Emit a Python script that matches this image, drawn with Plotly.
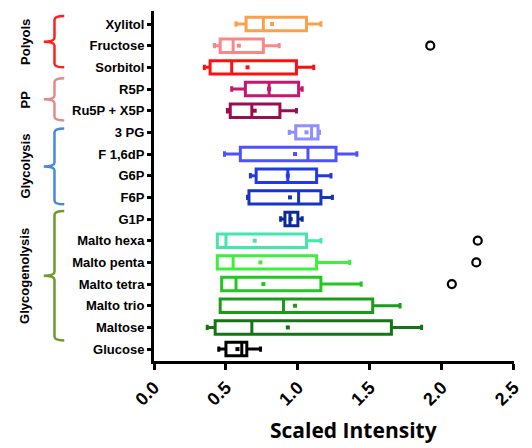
import plotly.graph_objects as go

# ---- data (top to bottom as drawn) ----
categories = ["Xylitol", "Fructose", "Sorbitol", "R5P", "Ru5P + X5P", "3 PG", "F 1,6dP",
              "G6P", "F6P", "G1P", "Malto hexa", "Malto penta", "Malto tetra",
              "Malto trio", "Maltose", "Glucose"]
lower_whisker = [0.57, 0.42, 0.35, 0.54, 0.51, 0.94, 0.49, 0.67, 0.65, 0.88, 0.44, 0.44, 0.47, 0.46, 0.37, 0.45]
q1_values     = [0.64, 0.46, 0.39, 0.635, 0.53, 0.985, 0.60, 0.71, 0.66, 0.91, 0.44, 0.44, 0.47, 0.46, 0.425, 0.50]
median_values = [0.76, 0.55, 0.54, 0.80, 0.68, 1.095, 1.07, 0.93, 1.005, 0.945, 0.50, 0.55, 0.57, 0.90, 0.68, 0.61]
q3_values     = [1.06, 0.76, 0.99, 1.005, 0.875, 1.14, 1.265, 1.13, 1.16, 1.00, 1.06, 1.13, 1.16, 1.52, 1.65, 0.645]
upper_whisker = [1.16, 0.87, 1.11, 1.03, 0.99, 1.15, 1.41, 1.23, 1.24, 1.03, 1.16, 1.36, 1.44, 1.71, 1.86, 0.74]
mean_values   = [0.82, 0.59, 0.65, 0.80, 0.70, 1.06, 0.98, 0.93, 0.945, 0.95, 0.70, 0.74, 0.76, 0.98, 0.93, 0.58]
colors = ["#f9a04c", "#f98787", "#ff1010", "#c8166e", "#9c0c50", "#8f8fff", "#5050ff",
          "#1f3ae6", "#1834c4", "#0c2a96", "#45e6ad", "#3cf03c", "#22c822", "#1a9c1a",
          "#157515", "#000000"]

outlier_cats = ["Fructose", "Malto hexa", "Malto penta", "Malto tetra"]
outlier_values = [1.92, 2.25, 2.24, 2.07]

x_tick_values = [0.0, 0.5, 1.0, 1.5, 2.0, 2.5]
x_tick_labels = ["0.0", "0.5", "1.0", "1.5", "2.0", "2.5"]

groups = ["Polyols", "PP", "Glycolysis", "Glycogenolysis"]
group_first = ["Xylitol", "R5P", "3 PG", "G1P"]
group_last = ["Sorbitol", "Ru5P + X5P", "F6P", "Maltose"]
group_colors = ["#ff2020", "#e08c8c", "#4a88dc", "#6c9a2c"]

order = list(reversed(categories))  # bottom-to-top for the axis
idx = {c: order.index(c) for c in categories}

fig = go.Figure()
for i, cat in enumerate(categories):
    fig.add_trace(go.Box(
        y=[cat], q1=[q1_values[i]], median=[median_values[i]], q3=[q3_values[i]],
        lowerfence=[lower_whisker[i]], upperfence=[upper_whisker[i]],
        orientation="h", boxpoints=False, fillcolor="white",
        line=dict(color=colors[i], width=3), whiskerwidth=0.4, width=0.62,
        showlegend=False, hoverinfo="skip"))
    fig.add_trace(go.Scatter(
        x=[mean_values[i]], y=[cat], mode="markers",
        marker=dict(color=colors[i], size=4, symbol="square"),
        showlegend=False, hoverinfo="skip"))

fig.add_trace(go.Scatter(
    x=outlier_values, y=outlier_cats, mode="markers",
    marker=dict(symbol="circle-open", size=8, color="black", line=dict(width=2.2, color="black")),
    showlegend=False, hoverinfo="skip"))

# plot-area geometry (pixels) for the side brackets
L, R = 154, 523
def px_to_paper(px):
    return (px - L) / (R - L)

xv = px_to_paper(52)
xe = px_to_paper(62)
xt = px_to_paper(41)
xlab = px_to_paper(22)
shapes = []
annotations = []
pads_top = [0.37, 0.5, 0.18, 0.37]
pads_bot = [0.0, 0.45, 0.32, 0.6]
for g, name in enumerate(groups):
    top = idx[group_first[g]] + pads_top[g]
    bot = idx[group_last[g]] - pads_bot[g]
    mid = (top + bot) / 2
    d = 0.18
    path = (f"M {xe},{top} Q {xv},{top} {xv},{top - d} "
            f"L {xv},{mid + d} Q {xv},{mid} {xt},{mid} "
            f"M {xt},{mid} Q {xv},{mid} {xv},{mid - d} "
            f"L {xv},{bot + d} Q {xv},{bot} {xe},{bot}")
    shapes.append(dict(type="path", path=path, xref="paper", yref="y",
                       line=dict(color=group_colors[g], width=2.5)))
    annotations.append(dict(text=name, x=xlab, y=mid, xref="paper", yref="y",
                            xanchor="center", yanchor="middle",
                            textangle=-90, showarrow=False,
                            font=dict(family="Liberation Sans", size=13, color="black", weight="bold")))

annotations.append(dict(text="Scaled Intensity", x=px_to_paper(358), y=(361 - 446) / 350,
                        xref="paper", yref="paper", showarrow=False,
                        xanchor="center", yanchor="bottom",
                        font=dict(family="Open Sans", size=21, color="black", weight="bold")))

fig.update_layout(
    width=532, height=448,
    margin=dict(l=154, r=9, t=11, b=87),
    plot_bgcolor="white", paper_bgcolor="white",
    shapes=shapes, annotations=annotations,
    xaxis=dict(range=[0, 2.502], showgrid=False, zeroline=False,
               showline=True, linewidth=3, linecolor="black",
               ticks="outside", ticklen=6, tickwidth=2.5, tickcolor="black",
               tickvals=x_tick_values, ticktext=x_tick_labels, tickangle=-45,
               tickfont=dict(family="Liberation Sans", size=18, color="black", weight="bold")),
    yaxis=dict(type="category", categoryorder="array", categoryarray=order,
               range=[-0.55, 15.6], showgrid=False, zeroline=False,
               showline=True, linewidth=3, linecolor="black",
               ticks="outside", ticklen=4, tickwidth=3, tickcolor="black",
               tickfont=dict(family="Liberation Sans", size=13, color="black", weight="bold")),
)

fig.write_html("out.html", config={"displayModeBar": False},
               post_script="document.body.style.margin='0px';")
